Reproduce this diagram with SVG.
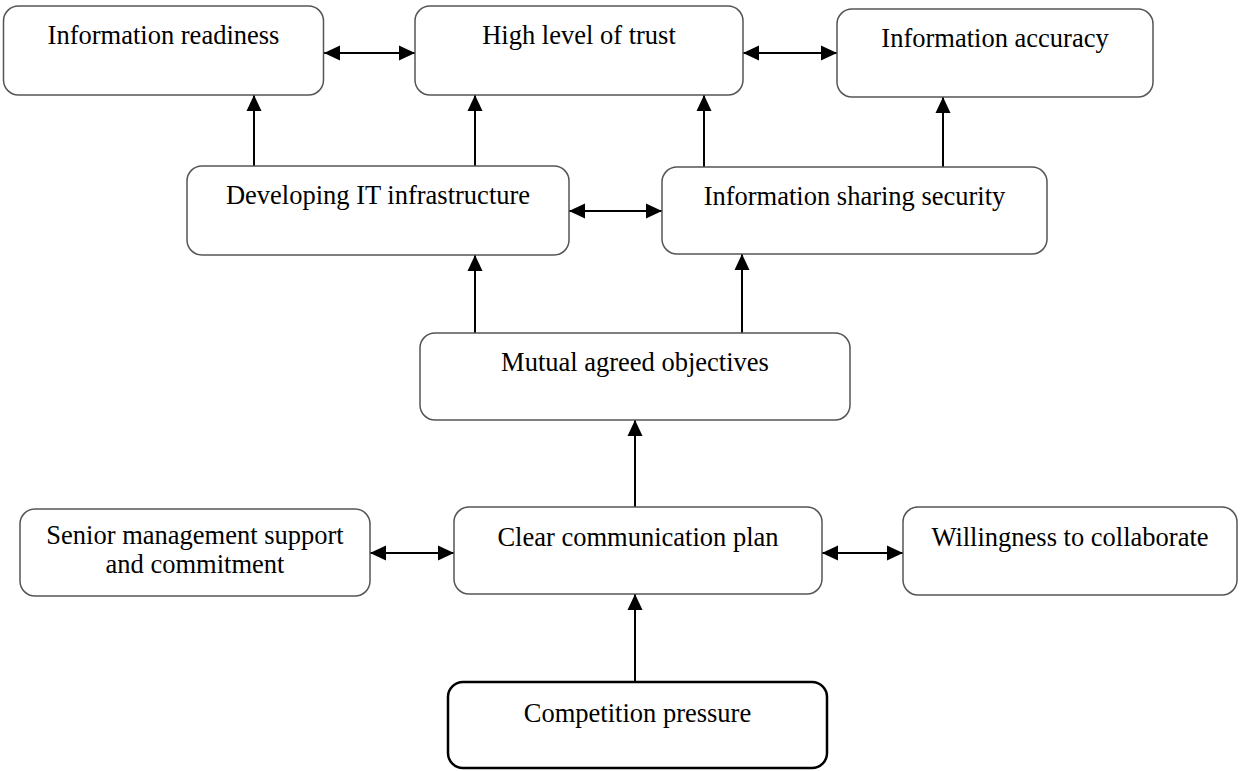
<svg xmlns="http://www.w3.org/2000/svg" width="1241" height="771" viewBox="0 0 1241 771">
<defs>
<style>
.box{fill:#fff;stroke:#555;stroke-width:1.5}
.boxb{fill:#fff;stroke:#000;stroke-width:2.5}
.t{font-family:"Liberation Serif","Times New Roman",serif;font-size:26.5px;fill:#000;text-anchor:middle}
.c{stroke:#000;stroke-width:2;fill:none}
</style>
<marker id="ah" viewBox="0 0 16 16" refX="16" refY="8" markerWidth="16" markerHeight="16" markerUnits="userSpaceOnUse" orient="auto-start-reverse">
<path d="M0,0.5 L16,8 L0,15.5 Z" fill="#000"/>
</marker>
</defs>
<rect width="1241" height="771" fill="#fff"/>
<g id="connectors">
<line class="c" x1="324" y1="53" x2="415" y2="53" marker-start="url(#ah)" marker-end="url(#ah)"/>
<line class="c" x1="743" y1="53" x2="837" y2="53" marker-start="url(#ah)" marker-end="url(#ah)"/>
<line class="c" x1="569" y1="211" x2="662" y2="211" marker-start="url(#ah)" marker-end="url(#ah)"/>
<line class="c" x1="370" y1="553" x2="454" y2="553" marker-start="url(#ah)" marker-end="url(#ah)"/>
<line class="c" x1="822" y1="553" x2="903" y2="553" marker-start="url(#ah)" marker-end="url(#ah)"/>
<line class="c" x1="254" y1="166" x2="254" y2="95" marker-end="url(#ah)"/>
<line class="c" x1="475" y1="166" x2="475" y2="95" marker-end="url(#ah)"/>
<line class="c" x1="704" y1="167" x2="704" y2="95" marker-end="url(#ah)"/>
<line class="c" x1="943" y1="167" x2="943" y2="97" marker-end="url(#ah)"/>
<line class="c" x1="475" y1="333" x2="475" y2="255" marker-end="url(#ah)"/>
<line class="c" x1="742" y1="333" x2="742" y2="254" marker-end="url(#ah)"/>
<line class="c" x1="635" y1="507" x2="635" y2="420" marker-end="url(#ah)"/>
<line class="c" x1="635" y1="682" x2="635" y2="594" marker-end="url(#ah)"/>
</g>
<g id="n-readiness"><rect class="box" x="3.5" y="6" width="320" height="89" rx="15"/><text class="t" x="163.5" y="44">Information readiness</text></g>
<g id="n-trust"><rect class="box" x="415" y="6" width="328" height="89" rx="15"/><text class="t" x="579" y="44">High level of trust</text></g>
<g id="n-accuracy"><rect class="box" x="837" y="9" width="316" height="88" rx="15"/><text class="t" x="995" y="47">Information accuracy</text></g>
<g id="n-it"><rect class="box" x="187" y="166" width="382" height="89" rx="15"/><text class="t" x="378" y="204">Developing IT infrastructure</text></g>
<g id="n-security"><rect class="box" x="662" y="167" width="385" height="87" rx="15"/><text class="t" x="854.5" y="205">Information sharing security</text></g>
<g id="n-objectives"><rect class="box" x="420" y="333" width="430" height="87" rx="15"/><text class="t" x="635" y="371">Mutual agreed objectives</text></g>
<g id="n-senior"><rect class="box" x="20" y="509" width="350" height="87" rx="15"/><text class="t" x="195" y="544">Senior management support</text><text class="t" x="195" y="573">and commitment</text></g>
<g id="n-comm"><rect class="box" x="454" y="507" width="368" height="87" rx="15"/><text class="t" x="638" y="546">Clear communication plan</text></g>
<g id="n-willing"><rect class="box" x="903" y="507" width="334" height="88" rx="15"/><text class="t" x="1070" y="546">Willingness to collaborate</text></g>
<g id="n-competition"><rect class="boxb" x="448" y="682" width="379" height="86" rx="15"/><text class="t" x="637.5" y="722">Competition pressure</text></g>
</svg>
